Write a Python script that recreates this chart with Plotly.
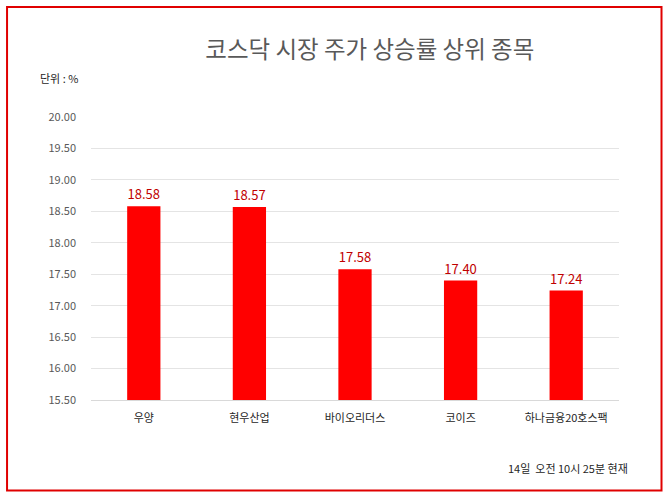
import plotly.graph_objects as go

# 코스닥 상승률 상위 종목 (단위: %)
stocks = ['우양', '현우산업', '바이오리더스', '코이즈', '하나금융20호스팩']
rates = [18.58, 18.57, 17.58, 17.40, 17.24]
y_ticks = [15.5, 16.0, 16.5, 17.0, 17.5, 18.0, 18.5, 19.0, 19.5, 20.0]

FONT = 'Noto Sans CJK KR'

fig = go.Figure(go.Bar(
    x=stocks, y=rates,
    marker=dict(color='#ff0000', line=dict(width=0)),
    text=[f'{v:.2f}' for v in rates],
    textposition='outside',
    textfont=dict(color='#c00000', size=13, family=FONT),
    cliponaxis=False,
))

fig.update_layout(
    width=670, height=498,
    margin=dict(l=91, r=51, t=117, b=98),
    paper_bgcolor='white', plot_bgcolor='white',
    font=dict(family=FONT, color='#404040'),
    bargap=0.685,
    showlegend=False,
    title=dict(text='코스닥 시장 주가 상승률 상위 종목', x=0.552, xanchor='center',
               y=0.9, yanchor='middle', font=dict(size=23.5, color='#595959', family=FONT)),
    xaxis=dict(showgrid=False, showline=True, linecolor='#d9d9d9', ticks='',
               tickfont=dict(size=11, color='#262626'), ticklabelstandoff=8),
    yaxis=dict(range=[15.5, 20.0], tickvals=y_ticks, tickformat='.2f',
               showgrid=True, gridcolor='#e4e4e4', zeroline=False,
               tickfont=dict(size=11, color='#595959'), ticklabelstandoff=14),
    annotations=[
        dict(text='단위 : %', xref='paper', yref='paper', x=-0.10, y=1.138,
             xanchor='left', yanchor='middle', showarrow=False,
             font=dict(size=11, color='#262626')),
        dict(text='14일  오전 10시 25분 현재', xref='paper', yref='paper', x=1.021, y=-0.24,
             xanchor='right', yanchor='middle', showarrow=False,
             font=dict(size=11, color='#262626')),
    ],
    shapes=[dict(type='rect', xref='paper', yref='paper',
                 x0=-0.159, x1=1.0805, y0=-0.320, y1=1.389,
                 line=dict(color='#e00000', width=2), fillcolor='rgba(0,0,0,0)')],
)

fig.write_html('out.html', config={'displayModeBar': False},
               post_script="document.body.style.margin='0';")
